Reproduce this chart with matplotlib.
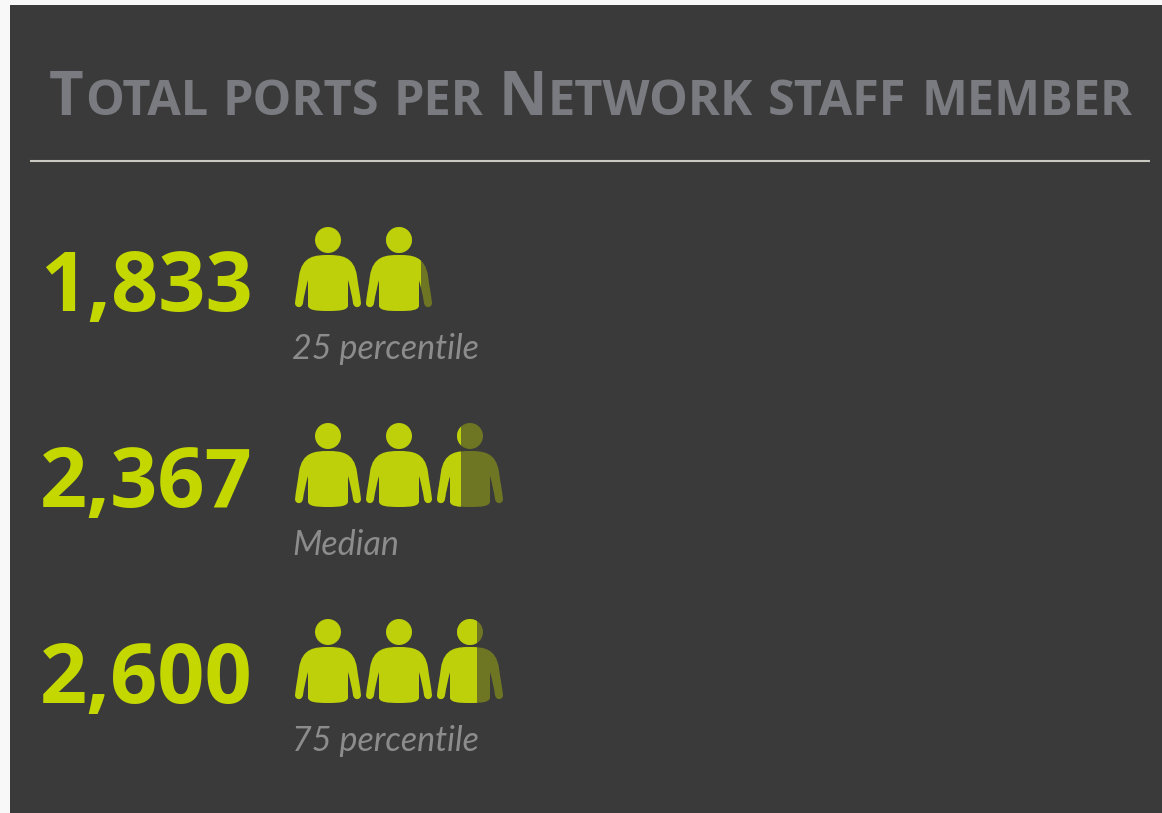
import matplotlib
matplotlib.use('Agg')
import matplotlib.pyplot as plt
from matplotlib.patches import PathPatch, Rectangle, Circle
from matplotlib.path import Path
from matplotlib.transforms import Affine2D

values = [1833, 2367, 2600]
labels = ['25 percentile', 'Median', '75 percentile']
title_runs = [('T', 1), ('OTAL', 0), ('PORTS', 0), ('PER', 0), ('N', 1), ('ETWORK', 0), ('STAFF', 0), ('MEMBER', 0)]
ports_per_icon = 1000

W, H = 1162, 813
bg = '#3a3a3a'
lime = '#bdd00a'
lime_dim = '#6e7624'
num_col = '#c4d800'

# outline of one person, pixels from the top-left of the icon (head centre at y=0)
body_verts = [
    (33, 15), (20, 15), (7, 16), (4, 36),
    (3, 44), (1, 54), (0, 63),
    (0, 68), (7, 69), (8, 63),
    (9, 56), (11, 47), (13, 40),
    (13, 48), (13, 58), (13, 66),
    (14, 70), (20, 71), (33, 71),
    (46, 71), (52, 70), (53, 66),
    (53, 58), (53, 48), (53, 40),
    (55, 47), (57, 56), (58, 63),
    (59, 69), (66, 68), (66, 63),
    (65, 54), (63, 44), (62, 36),
    (59, 16), (46, 15), (33, 15),
]
body_codes = [Path.MOVETO] + [Path.CURVE4] * (len(body_verts) - 1)
body_path = Path(body_verts, body_codes)


def draw_person(ax, x, y, color, clip=None):
    t = Affine2D().translate(x, y) + ax.transData
    for p in [PathPatch(body_path, fc=color, ec='none', transform=t),
              Circle((33, 0), 13, fc=color, ec='none', transform=t)]:
        ax.add_patch(p)
        if clip is not None:
            p.set_clip_path(clip)


fig = plt.figure(figsize=(W / 100, H / 100), dpi=100, facecolor='#f8f8f8')
ax = fig.add_axes([0, 0, 1, 1])
ax.set_xlim(0, W)
ax.set_ylim(H, 0)
ax.axis('off')
ax.add_patch(Rectangle((10, 5), W - 10, H - 5, fc=bg, ec='none'))

# title in small caps, one run at a time
renderer = fig.canvas.get_renderer()
x = 49
for word, big in title_runs:
    t = ax.text(x, 115, word, color='#7a7b80', family='Open Sans', weight='bold',
                fontsize=43 if big else 35, va='baseline', ha='left')
    x += t.get_window_extent(renderer).width
    x += 1 if big else 14.7

ax.plot([30, 1150], [161.5, 161.5], color='#c9c9c1', lw=1.5, solid_capstyle='butt')

for row, (val, lab) in enumerate(zip(values, labels)):
    y = 240 + row * 196
    ax.text(146, y + 71, f'{val:,}', color=num_col, family='Open Sans', weight='bold',
            fontsize=59.5, ha='center', va='baseline')
    ax.text(292, y + 119, lab, color='#8c8c8c', family='Lato', weight='normal', style='italic',
            fontsize=24.5, ha='left', va='baseline')
    n = val / ports_per_icon
    k = 0
    while k < n:
        px = 295 + k * 71
        frac = min(n - k, 1)
        if frac < 1:
            draw_person(ax, px, y, lime_dim)
            clip = Rectangle((px - 2, y - 20), 2 + 66 * frac, 100, transform=ax.transData)
            draw_person(ax, px, y, lime, clip)
        else:
            draw_person(ax, px, y, lime)
        k += 1

fig.savefig('out.png', dpi=100, facecolor=fig.get_facecolor())
